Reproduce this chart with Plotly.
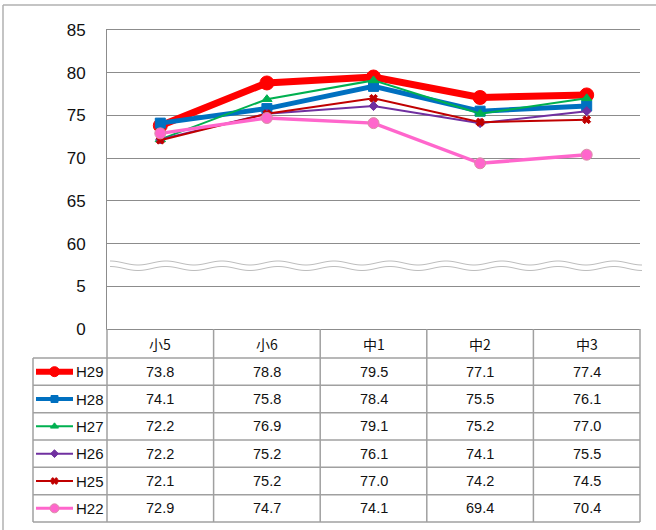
import numpy as np
import plotly.graph_objects as go

# ---------------- data ----------------
categories = ["小5", "小6", "中1", "中2", "中3"]
series_names = ["H29", "H28", "H27", "H26", "H25", "H22"]
h29 = [73.8, 78.8, 79.5, 77.1, 77.4]
h28 = [74.1, 75.8, 78.4, 75.5, 76.1]
h27 = [72.2, 76.9, 79.1, 75.2, 77.0]
h26 = [72.2, 75.2, 76.1, 74.1, 75.5]
h25 = [72.1, 75.2, 77.0, 74.2, 74.5]
h22 = [72.9, 74.7, 74.1, 69.4, 70.4]
series_values = [h29, h28, h27, h26, h25, h22]
# broken axis: the lower band (0-5) is shown in the slot 50-55
y_tick_vals = [50, 55, 60, 65, 70, 75, 80, 85]
y_tick_text = ["0", "5", "60", "65", "70", "75", "80", "85"]

# ---------------- styles ----------------
styles = [
    dict(color="#FF0000", width=7, symbol="circle", size=14, mline="#FF0000",
         lw_leg=6, ms_leg=10),
    dict(color="#0070C0", width=5, symbol="square", size=10, mline="#0070C0",
         lw_leg=4, ms_leg=7),
    dict(color="#00B050", width=2, symbol="triangle-up", size=9, mline="#00B050",
         lw_leg=2, ms_leg=7),
    dict(color="#7030A0", width=2, symbol="diamond", size=7, mline="#7030A0",
         lw_leg=2, ms_leg=6),
    dict(color="#C00000", width=2, symbol="x", size=7, mline="#C00000",
         lw_leg=2, ms_leg=6),
    dict(color="#FF66CC", width=3.5, symbol="circle", size=11, mline="#D98FA6",
         lw_leg=3, ms_leg=9),
]

W, H = 656, 530
PX0, PX1 = 107, 640      # plot area left/right (px)
PY0, PY1 = 30, 329       # plot area top/bottom (px)
LEG_X0 = 33              # table legend column left
HEAD_Y1 = 358            # header row bottom
TAB_Y1 = 522             # table bottom
ncat = len(categories)
colw = (PX1 - PX0) / ncat
rowh = (TAB_Y1 - HEAD_Y1) / len(series_names)
GRID = "#8C8C8C"
TAB = "#A0A0A0"
NUMFONT = "Liberation Sans, Arial, sans-serif"
CJKFONT = "Noto Sans CJK JP, sans-serif"

fig = go.Figure()

# ---------------- data lines ----------------
for name, vals, st in zip(series_names, series_values, styles):
    fig.add_trace(go.Scatter(
        x=categories, y=vals, name=name, mode="lines+markers",
        line=dict(color=st["color"], width=st["width"]),
        marker=dict(symbol=st["symbol"], size=st["size"], color=st["color"],
                    line=dict(color=st["mline"], width=1)),
        xaxis="x", yaxis="y", showlegend=False, cliponaxis=False,
    ))

# ---------------- legend samples in table (pixel overlay axes) ----------------
for i, (name, st) in enumerate(zip(series_names, styles)):
    yc = HEAD_Y1 + (i + 0.5) * rowh
    fig.add_trace(go.Scatter(
        x=[36, 73], y=[yc, yc], mode="lines",
        line=dict(color=st["color"], width=st["lw_leg"]),
        xaxis="x2", yaxis="y2", showlegend=False, hoverinfo="skip",
    ))
    fig.add_trace(go.Scatter(
        x=[54.5], y=[yc], mode="markers",
        marker=dict(symbol=st["symbol"], size=st["ms_leg"], color=st["color"],
                    line=dict(color=st["mline"], width=1)),
        xaxis="x2", yaxis="y2", showlegend=False, hoverinfo="skip",
    ))

shapes = []
def line(x0, y0, x1, y1, color=TAB, width=1.5):
    shapes.append(dict(type="line", xref="x2", yref="y2", x0=x0, y0=y0, x1=x1, y1=y1,
                       line=dict(color=color, width=width), layer="above"))

# outer frame (left and top)
line(3, H, 3, 5, color="#B0B0B0", width=1.5)
line(3, 5, W, 5, color="#B0B0B0", width=1.5)

# table horizontal lines
for r in range(len(series_names) + 1):
    y = HEAD_Y1 + r * rowh
    line(LEG_X0, y, PX1, y)
# table vertical lines
line(LEG_X0, HEAD_Y1, LEG_X0, TAB_Y1)
for c in range(ncat + 1):
    x = PX0 + c * colw
    line(x, PY1, x, TAB_Y1)

# axis break waves
def wave(yc, amp=2.0, period=56.0, x0=110, x1=642):
    xs = np.arange(x0, x1 + 1, 1.0)
    ys = yc - amp * np.cos(2 * np.pi * (xs - x0) / period)
    return "M " + " L ".join(f"{a:.1f},{b:.2f}" for a, b in zip(xs, ys))
for yc in (263.0, 268.5):
    shapes.append(dict(type="path", xref="x2", yref="y2", path=wave(yc),
                       line=dict(color="#BDBDBD", width=1), layer="above"))

annotations = []
# header
for c, cat in enumerate(categories):
    annotations.append(dict(x=cat, xref="x", y=(PY1 + HEAD_Y1) / 2, yref="y2",
                            text=cat, showarrow=False,
                            font=dict(family=CJKFONT, size=14, color="#111111")))
# rows
for i, (name, vals) in enumerate(zip(series_names, series_values)):
    yc = HEAD_Y1 + (i + 0.5) * rowh
    annotations.append(dict(x=74, xref="x2", y=yc, yref="y2", text=name,
                            showarrow=False, xanchor="left",
                            font=dict(family=NUMFONT, size=15, color="#111111")))
    for cat, v in zip(categories, vals):
        annotations.append(dict(x=cat, xref="x", y=yc, yref="y2", text=f"{v:.1f}",
                                showarrow=False,
                                font=dict(family=NUMFONT, size=14.5, color="#111111")))

fig.update_layout(
    width=W, height=H,
    margin=dict(l=0, r=0, t=0, b=0),
    paper_bgcolor="white", plot_bgcolor="rgba(0,0,0,0)",
    xaxis=dict(domain=[PX0 / W, PX1 / W], anchor="y", type="category",
               range=[-0.5, ncat - 0.5], showgrid=False, zeroline=False,
               showline=True, linecolor=GRID, linewidth=1, mirror=True,
               showticklabels=False, ticks="", automargin=False),
    yaxis=dict(domain=[(H - PY1) / H, (H - PY0) / H], anchor="x",
               range=[50, 85], tickvals=y_tick_vals, ticktext=y_tick_text,
               showgrid=True, gridcolor=GRID, gridwidth=1, zeroline=False,
               showline=True, linecolor=GRID, linewidth=1, ticks="",
               ticklabelstandoff=17, automargin=False,
               tickfont=dict(family=NUMFONT, size=17, color="#111111")),
    xaxis2=dict(domain=[0, 1], anchor="y2", range=[0, W], visible=False,
                automargin=False, fixedrange=True),
    yaxis2=dict(domain=[0, 1], anchor="x2", range=[H, 0], visible=False,
                automargin=False, fixedrange=True),
    shapes=shapes, annotations=annotations,
)

post = ("document.body.style.margin='0px';"
        "document.documentElement.style.overflow='hidden';"
        "document.body.style.overflow='hidden';")
fig.write_html("out.html", config={"displayModeBar": False}, post_script=post)
